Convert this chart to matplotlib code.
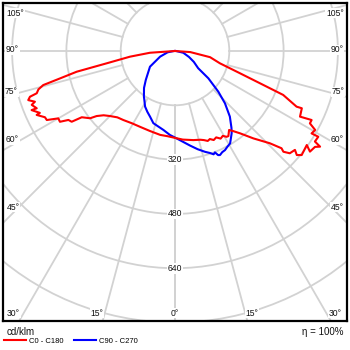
import numpy as np
import matplotlib
matplotlib.use("Agg")
import matplotlib.pyplot as plt
from matplotlib.patches import Circle

plt.rcParams['font.family'] = ['Liberation Sans', 'DejaVu Sans']

# --- données photométriques (gamma en degrés, intensité en cd/klm) ---
gamma_c0 = [0, 5, 11.6, 16, 18, 20, 21.6, 23.5, 25.5, 27.5, 29.4, 31, 32.1, 34.4, 35.9,
            38.3, 41.9, 45.8, 47.6, 47.1, 48.3, 50.5, 49.5, 50.6, 54.5, 53.3, 55.6, 56.6,
            57.1, 59.1, 58.9, 60.6, 61.8, 63.2, 62.3, 65.7, 65.4, 67.9, 69.2, 71.1, 74.7,
            80, 86, 90]
cd_c0 = [256, 262, 268, 272, 276, 282, 279, 286, 282, 291, 287, 295, 296, 282, 291,
         309, 346, 390, 425, 436, 453, 458, 472, 483, 477, 496, 500, 512,
         491, 492, 470, 474, 451, 451, 416, 410, 394, 344, 268, 202, 137,
         105, 45, 0]

gamma_c180 = [0, 5, 10, 17.4, 24.8, 30.9, 36.8, 41, 45, 48, 50.3, 51.6, 54.6, 55.6, 57.1,
              58.4, 60.0, 61.7, 63.0, 65.2, 65.4, 67.6, 67.5, 69.4, 70.1, 71.5, 72.5, 73.0,
              74.3, 75.5, 76.6, 78.1, 79.8, 82.8, 86, 90]
cd_c180 = [256, 252, 251, 247, 246, 248, 254, 259, 271, 283, 300, 319, 337, 369, 374,
           398, 397, 429, 430, 449, 438, 457, 441, 451, 439, 456, 448, 426,
           418, 401, 348, 296, 204, 134, 74, 0]

gamma_c90 = [0, 9, 13, 16.6, 19, 20.5, 21.5, 22.5, 23.4, 25, 26.8, 28.5, 30.8, 32.7, 34.6,
             36.3, 39.9, 43.7, 46.8, 50.7, 53.4, 60, 66.8, 78, 90]
cd_c90 = [255, 282, 297, 310, 318, 325, 321, 332, 334, 329, 327, 322, 317, 305, 294,
          281, 252, 213, 175, 127, 85, 64, 45, 25, 3]

gamma_c270 = [0, 3.4, 8.4, 12.4, 16.7, 20.8, 24.4, 28.3, 32.1, 34.2, 40, 45.3, 57.9, 69.2, 80, 90]
cd_c270 = [255, 248, 235, 228, 222, 207, 197, 186, 170, 163, 142, 121, 87, 47, 22, 3]

rings = [160, 320, 480, 640, 800]
ring_labels = [320, 480, 640]
angle_labels = [105, 90, 75, 60, 45, 30, 15, 0, 15, 30, 45, 60, 75, 90, 105]
# positions (pixels) des étiquettes d'angle sur le cadre
angle_label_px = [(15, 13), (12.5, 50), (11.5, 92), (12.5, 140), (13, 207),
                  (13.5, 313), (97, 313), (175, 313), (252, 313), (335, 313),
                  (337, 207), (337.5, 140), (338, 92), (337, 50), (335, 13)]

S = 0.3394        # pixels par cd
CX, CY = 175, 51  # centre du diagramme (pixels)


def to_data(px, py):
    return (px - CX) / S, (CY - py) / S


fig = plt.figure(figsize=(3.5, 3.5), dpi=100)
ax = fig.add_axes([3/350, 29/350, 344/350, 318/350])
x0, y1 = to_data(3, 3)
x1, y0 = to_data(347, 321)
ax.set_xlim(x0, x1)
ax.set_ylim(y0, y1)
ax.set_xticks([])
ax.set_yticks([])
for sp in ax.spines.values():
    sp.set_linewidth(1.6)
    sp.set_color('black')
    sp.set_zorder(10)

gc = '#d2d2d2'
for r in rings:
    ax.add_patch(Circle((0, 0), r, fill=False, ec=gc, lw=1.3, zorder=1))
for a in np.radians(np.arange(0, 181, 15)):
    for side in (-1, 1):
        ax.plot([160*side*np.sin(a), 2000*side*np.sin(a)],
                [-160*np.cos(a), -2000*np.cos(a)], color=gc, lw=1.3, zorder=1)


def curve(g_left, i_left, g_right, i_right):
    gl = np.radians(g_left[::-1])
    il = np.array(i_left[::-1], dtype=float)
    gr = np.radians(g_right)
    ir = np.array(i_right, dtype=float)
    x = np.concatenate([-il*np.sin(gl), ir*np.sin(gr)])
    y = np.concatenate([-il*np.cos(gl), -ir*np.cos(gr)])
    return x, y


xb, yb = curve(gamma_c270, cd_c270, gamma_c90, cd_c90)
blue, = ax.plot(xb, yb, color='#0000ff', lw=1.5, zorder=3)
xr, yr = curve(gamma_c180, cd_c180, gamma_c0, cd_c0)
red, = ax.plot(xr, yr, color='#ff0000', lw=1.5, zorder=4)

box = dict(fc='white', ec='none', pad=0.6)
for v in ring_labels:
    ax.text(0, -v, str(v), ha='center', va='center', fontsize=6.2, color='#111111',
            bbox=box, zorder=2)
for lab, (px, py) in zip(angle_labels, angle_label_px):
    tx, ty = to_data(px, py)
    ax.text(tx, ty, f"{lab}°", ha='center', va='center', fontsize=6.2, color='#111111',
            bbox=box, zorder=2, clip_on=False)

fig.text(7/350, 1 - 332/350, 'cd/klm', fontsize=7, va='center', color='#111111')
fig.text(343/350, 1 - 332/350, 'η = 100%', fontsize=7, va='center', ha='right', color='#111111')
fig.legend(handles=[red, blue], labels=['C0 - C180', 'C90 - C270'],
           loc='center left', bbox_to_anchor=(4/350, 1 - 341/350), ncol=2,
           frameon=False, fontsize=5.5, handlelength=2.9, handletextpad=0.4,
           columnspacing=1.3, borderpad=0, borderaxespad=0)

fig.savefig('out.png', dpi=100)
